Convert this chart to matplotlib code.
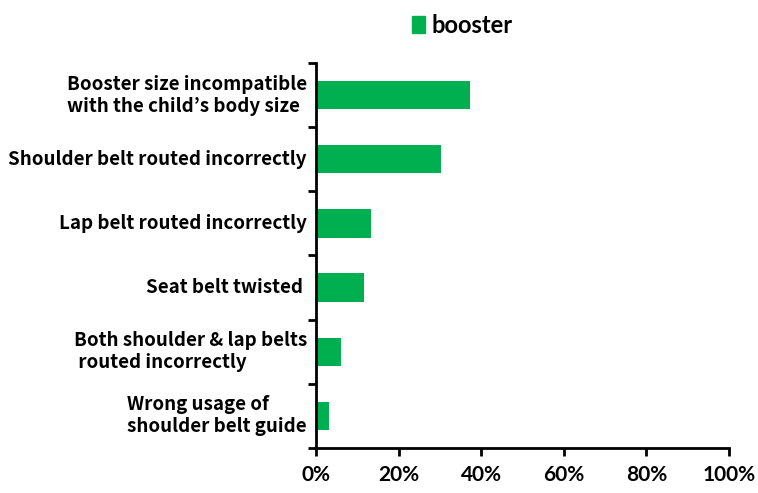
import matplotlib
matplotlib.use('Agg')
import matplotlib.pyplot as plt
from matplotlib.patches import Patch

categories = [
    'Booster size incompatible\nwith the child\u2019s body size',
    'Shoulder belt routed incorrectly',
    'Lap belt routed incorrectly',
    'Seat belt twisted ',
    'Both shoulder & lap belts\n routed incorrectly',
    'Wrong usage of\nshoulder belt guide',
]
booster = [37.4, 30.3, 13.2, 11.7, 6.0, 3.1]
xticks = [0, 20, 40, 60, 80, 100]
xtick_labels = ['0%', '20%', '40%', '60%', '80%', '100%']

green = '#00B050'
label_font = ['Noto Sans CJK JP', 'DejaVu Sans']
tick_font = ['Lato', 'DejaVu Sans']

fig = plt.figure(figsize=(7.58, 4.93), dpi=100)
ax = fig.add_axes([0.4169, 0.0913, 0.9617 - 0.4169, 0.8722 - 0.0913])

n = len(categories)
ypos = list(range(n))[::-1]
ax.barh(ypos, booster, height=0.44, color=green)

ax.set_xlim(0, 100)
ax.set_ylim(-0.5, n - 0.5)
ax.set_xticks(xticks)
ax.set_xticklabels(xtick_labels, fontfamily=tick_font, fontweight='bold', fontsize=15)

# category separators as ticks, labels in the middle
ax.set_yticks([y + 0.5 for y in range(-1, n)])
ax.set_yticklabels([])
ax.tick_params(axis='y', length=6, width=2, direction='out')
ax.tick_params(axis='x', length=6, width=2, direction='out', pad=6)
for y, lab in zip(ypos, categories):
    ax.text(-0.022, y, lab, transform=ax.get_yaxis_transform(), ha='right', va='center',
            multialignment='left', fontfamily=label_font, fontweight='bold', fontsize=13.5,
            linespacing=1.2)

for s in ['top', 'right']:
    ax.spines[s].set_visible(False)
ax.spines['left'].set_linewidth(2)
ax.spines['bottom'].set_linewidth(2)

fig.legend(handles=[Patch(color=green, label='booster')], loc='upper center',
           bbox_to_anchor=(0.61, 1.015), frameon=False, handlelength=0.55, handleheight=0.75,
           handletextpad=0.25, prop={'family': tick_font, 'weight': 'bold', 'size': 17})

fig.savefig('out.png', dpi=100)
